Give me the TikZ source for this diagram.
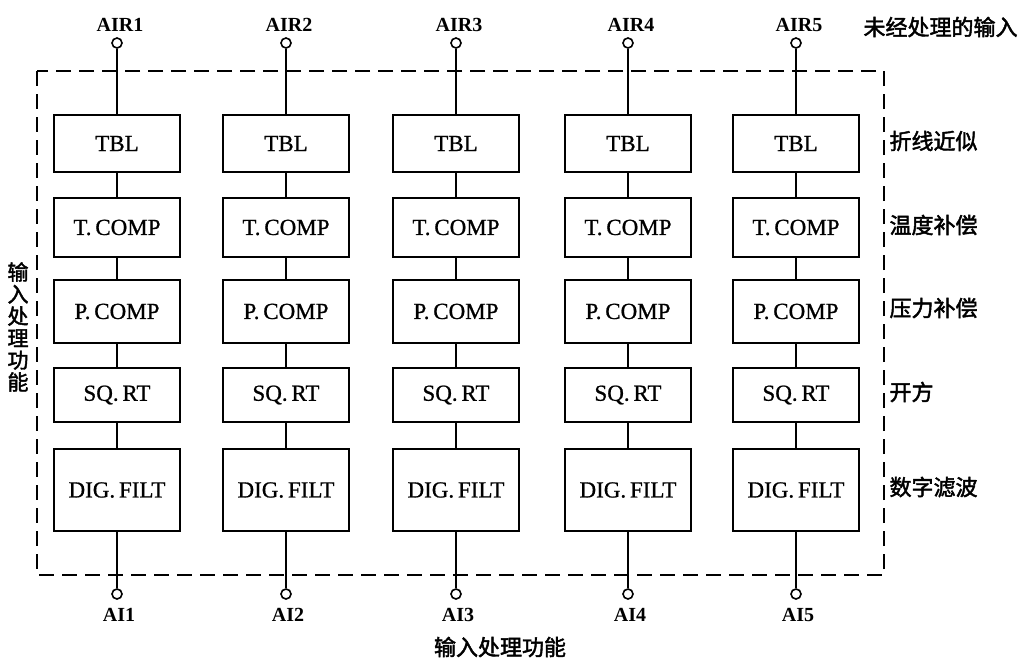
\documentclass[tikz,border=0pt]{standalone}
\usepackage{fontspec}
\setmainfont{Liberation Serif}
\newfontfamily\boxfont[FakeBold=0.8]{Liberation Serif}
\newfontfamily\cjk[FakeBold=2]{Noto Sans CJK SC}
\begin{document}
\begin{tikzpicture}[x=1pt,y=-1pt,
  blk/.style={draw,line width=2.2pt,minimum width=126pt,inner sep=0pt,font=\boxfont\fontsize{23}{25}\selectfont},
  wire/.style={line width=1.6pt},
  term/.style={circle,draw,line width=1.6pt,fill=white,minimum size=10pt,inner sep=0pt},
  toplab/.style={font=\fontsize{20}{22}\selectfont\bfseries},
  side/.style={anchor=west,font=\cjk\fontsize{22}{24}\selectfont},
  border/.style={line width=1.7pt,dash pattern=on 15pt off 8pt}]
\useasboundingbox (0,0) rectangle (1031,657);
\draw[border] (37,71) coordinate (bl) rectangle (884,575) coordinate (br);
\foreach \i/\x in {1/117,2/286,3/456,4/628,5/796}{
  \node[blk,minimum height=57pt] (tbl\i) at (\x,143.5) {TBL};
  \node[blk,minimum height=59pt] (tc\i) at (\x,227.5) {T.\,COMP};
  \node[blk,minimum height=63pt] (pc\i) at (\x,311.5) {P.\,COMP};
  \node[blk,minimum height=54pt] (sq\i) at (\x,395) {SQ.\,RT};
  \node[blk,minimum height=82pt] (df\i) at (\x,490) {DIG.\,FILT};
  \node[term] (in\i) at (\x,43) {};
  \node[term] (out\i) at (\x,594) {};
  \node[toplab] (air\i) at (\x+3,25) {AIR\i};
  \node[toplab] (ai\i) at (\x+2,615) {AI\i};
  \draw[wire] (in\i) -- (tbl\i);
  \draw[wire] (tbl\i) -- (tc\i);
  \draw[wire] (tc\i) -- (pc\i);
  \draw[wire] (pc\i) -- (sq\i);
  \draw[wire] (sq\i) -- (df\i);
  \draw[wire] (df\i) -- (out\i);
}
\node[side] (l0) at (860,27) {未经处理的输入};
\node[side] (l1) at (886,141) {折线近似};
\node[side] (l2) at (886,225) {温度补偿};
\node[side] (l3) at (886,308) {压力补偿};
\node[side] (l4) at (886,392) {开方};
\node[side] (l5) at (886,487) {数字滤波};
\node[font=\cjk\fontsize{21}{22}\selectfont,align=center,inner sep=0pt] (lv) at (18,327) {输\\入\\处\\理\\功\\能};
\node[font=\cjk\fontsize{22}{24}\selectfont] (lb) at (500,647) {输入处理功能};
\end{tikzpicture}
\end{document}
